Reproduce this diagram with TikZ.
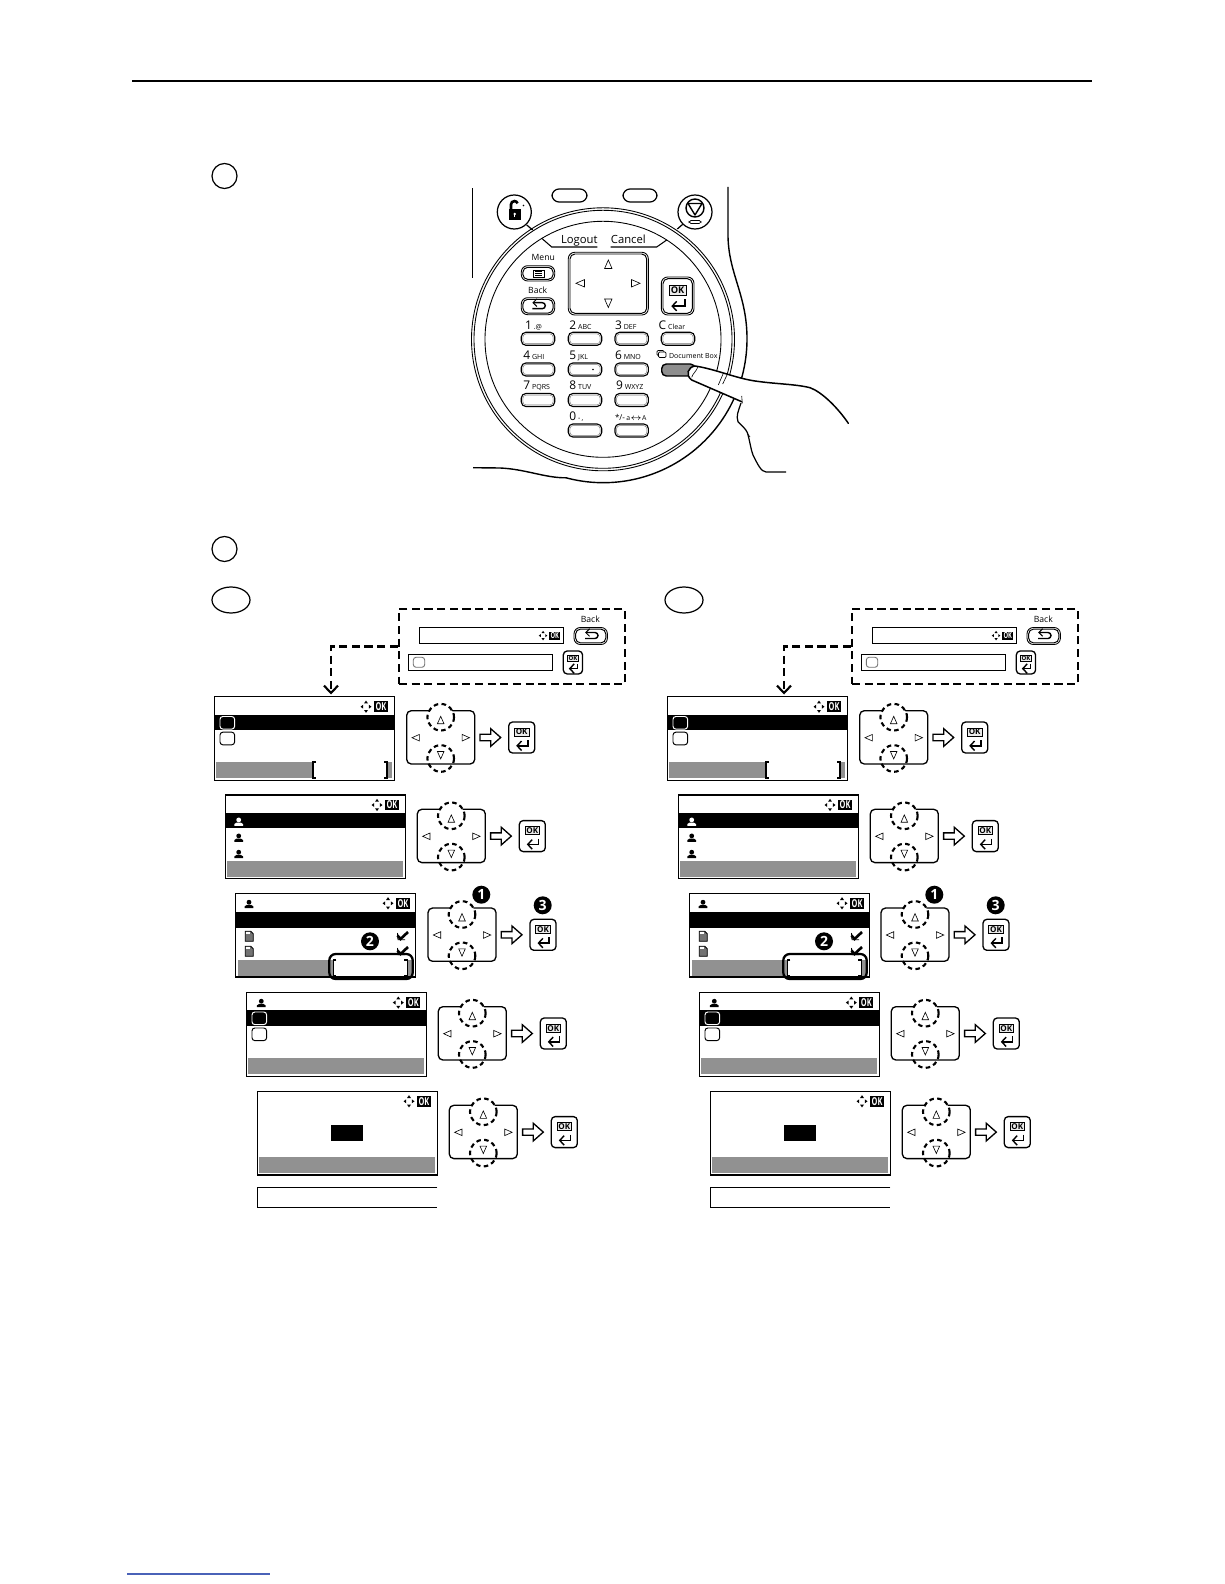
\documentclass[tikz,border=0pt]{standalone}
\usepackage{fontspec}
\setmainfont{Open Sans}
\usetikzlibrary{arrows.meta,calc,shapes.geometric}
\definecolor{scrgray}{HTML}{919191}
\definecolor{keygray}{HTML}{8E8E8E}
\definecolor{linkblue}{HTML}{4A62B8}
\newcounter{nid}
\newcommand\tx[3][]{\stepcounter{nid}\node[txt,#1] (t\arabic{nid}) at (#2) {#3};}
\newcommand\okmark[2]{%
 \begin{scope}[shift={(#1,#2)}]
  \fill (0,0) rectangle (14,10.6);
  \tx[text=white,font=\bfseries\fontsize{6.2}{6.5}\selectfont,xscale=.68]{7,5.3}{OK}
  \fill (-8,-.8) -- (-10,2) -- (-6,2) -- cycle;
  \fill (-8,11.4) -- (-10,8.6) -- (-6,8.6) -- cycle;
  \fill (-13.5,5.3) -- (-10.8,3.3) -- (-10.8,7.3) -- cycle;
  \fill (-2.5,5.3) -- (-5.2,3.3) -- (-5.2,7.3) -- cycle;
 \end{scope}}
\newcommand\okglyph[2]{% x,y of centre of the glyph block
 \begin{scope}[shift={(#1,#2)}]
  \draw[line width=.55pt,fill=black!8] (-7.3,-9) rectangle (7.3,-.8);
  \tx[font=\fontsize{4.6}{5}\selectfont]{0,-4.9}{\textbf{OK}}
  \draw[line width=1pt,-{Straight Barb[length=2.5pt,width=5.4pt,line width=.8pt]}] (6.3,3) -- (6.3,8.8) -- (-5.5,8.8);
 \end{scope}}
\newcommand\okbtn[3][1]{% top-left, 26x31
 \begin{scope}[shift={(#2,#3)},scale=#1,transform shape]
  \draw[line width=.75pt,fill=white,rounded corners=2.2pt] (0,0) rectangle (26,31);
  \okglyph{13}{15}
 \end{scope}}
\newcommand\backkey[3][]{% x0,y0 size 33x17
 \begin{scope}[shift={(#2,#3)}]
  \draw[line width=.5pt,rounded corners=3.6pt] (0,0) rectangle (33.4,17);
  \draw[line width=.55pt,rounded corners=2.8pt] (1.6,1.6) rectangle (31.8,15.4);
  \draw[line width=.8pt,-{Straight Barb[length=2.2pt,width=4.4pt,line width=.6pt]}] (22,5) -- (11,5);
  \draw[line width=.8pt] (12,5) -- (21,5) arc[start angle=-90,end angle=90,radius=3] -- (11,11);
 \end{scope}}
\newcommand\navpanel[2]{%
 \begin{scope}[shift={(#1,#2)}]
  \draw[navf] (0,0) rectangle (68,53.3);
  \fill[white] (34,6.5) circle[radius=13];
  \draw[dashc] (34,6.5) circle[radius=13.3];
  \draw[dashc] (34,47.8) circle[radius=13.3];
  \draw[tri] (34,5.6) -- (30.7,13) -- (37.3,13) -- cycle;
  \draw[tri] (34,48.2) -- (30.7,40.8) -- (37.3,40.8) -- cycle;
  \draw[tri] (5.3,27) -- (12.7,23.7) -- (12.7,30.3) -- cycle;
  \draw[tri] (62.8,27) -- (55.4,23.7) -- (55.4,30.3) -- cycle;
  \draw[line width=.75pt,fill=white,line join=miter] (73.3,23.6) -- (84,23.6) -- (84,18) -- (94,26.8) -- (84,35.6) -- (84,30) -- (73.3,30) -- cycle;
  \okbtn{102}{11.3}
 \end{scope}}
\newcommand\scrframe[2]{%
 \draw[scrf] (#1,#2) rectangle ++(180,83.7);}
\newcommand\rbox[3][black]{%
 \draw[draw=#1,line width=.55pt,rounded corners=1.6pt,fill=white] (#2,#3) rectangle ++(14.6,12.6);}
\newcommand\person[3][black]{%
 \fill[#1] (#2,#3-1.8) circle[radius=2.4];
 \fill[#1] (#2-4.4,#3+4.2) -- (#2-4.4,#3+2.4) -- (#2-2,#3+.8) -- (#2+2,#3+.8) -- (#2+4.4,#3+2.4) -- (#2+4.4,#3+4.2) -- cycle;}
\newcommand\docicon[2]{%
 \draw[line width=.45pt,fill=black!55] (#1-4,#2-5) -- (#1+1.5,#2-5) -- (#1+4,#2-2.5) -- (#1+4,#2+5) -- (#1-4,#2+5) -- cycle;
 \fill[white] (#1-3,#2-4.2) rectangle (#1+.8,#2-2.4);}
\newcommand\checkmk[2]{%
 \draw[line width=.5pt] (#1-5.5,#2-3) -- (#1-5,#2+3.8) -- (#1+2,#2+3.8);
 \draw[line width=1.5pt] (#1-5.5,#2-.5) -- (#1-2.5,#2+3) -- (#1+5,#2-4);}
\newcommand\bubble[3]{%
 \stepcounter{nid}\node[circle,fill=black,text=white,inner sep=0pt,minimum size=.36cm,font=\bfseries\fontsize{8}{8}\selectfont] (t\arabic{nid}) at (#1,#2) {#3};}
\newcommand\brkt[2]{%
 \fill[white] (#1,#2) rectangle ++(74,16);
 \draw[line width=.75pt] (#1+3,#2) -- (#1,#2) -- (#1,#2+16) -- (#1+3,#2+16);
 \draw[line width=.75pt] (#1+71,#2) -- (#1+74,#2) -- (#1+74,#2+16) -- (#1+71,#2+16);}
\newcommand\column[3]{% name, dx, dx for screen C
\begin{scope}[shift={(#2,0)}]
 \node[draw,line width=1.35pt,dash pattern=on 4.6pt off 2.6pt,minimum width=4.52cm,minimum height=1.5cm,inner sep=0pt] (dbox#1) at (512,646.5) {};
 % dashed box content
 \draw[line width=.7pt] (419.3,627.5) rectangle (563.3,643.3);
 \begin{scope}[shift={(549.3,631.5)},scale=.78,transform shape] \okmark{0}{0} \end{scope}
 \backkey{574}{627.5}
 \tx[font=\fontsize{4.9}{5}\selectfont]{590.3,619.5}{Back}
 \draw[line width=.7pt] (408.7,654.7) rectangle (552.7,670.7);
 \draw[black!55,line width=.5pt,rounded corners=1.6pt] (413.3,657.3) rectangle (424.7,667.3);
 \okbtn[.74]{563.3}{651}
 \coordinate (tgt#1) at (331,694.5);
 \draw[line width=1.35pt,dash pattern=on 4.6pt off 2.6pt,-{Straight Barb[length=4.2pt,width=8pt,line width=1.2pt]}] (dbox#1.west) -| (tgt#1);
 % screen A
 \scrframe{214.7}{696.7}
 \fill (214.7,714.7) rectangle (394.7,730);
 \draw[line width=.55pt,white,rounded corners=1.6pt,fill=black] (220,716.5) rectangle ++(14.6,12.6);
 \rbox{220}{732.2}
 \fill[scrgray] (216,762) rectangle (392,778);
 \brkt{313}{762}
 \okmark{374}{701.4}
 \navpanel{406.7}{710.7}
 % screen B
 \scrframe{225.7}{795}
 \fill (225.7,813) rectangle (405.7,828.3);
 \person[white]{238.7}{821.7} \person{238.7}{837.7} \person{238.7}{854}
 \fill[scrgray] (227.3,861) rectangle (403,877);
 \okmark{385}{799.7}
 \navpanel{417.3}{809.3}
 % screen D
 \scrframe{246.7}{992.7}
 \fill (246.7,1010) rectangle (426.7,1025.7);
 \draw[line width=.55pt,white,rounded corners=1.6pt,fill=black] (252,1012) rectangle ++(14.6,12.6);
 \rbox{252}{1028}
 \person{261.3}{1003}
 \fill[scrgray] (248.3,1058) rectangle (424,1074);
 \okmark{406.3}{997.3}
 \navpanel{438.3}{1006.7}
 % screen E
 \scrframe{257.3}{1091.3}
 \fill (331,1125) rectangle (363,1141);
 \fill[scrgray] (259,1157) rectangle (435,1173);
 \okmark{417}{1096}
 \navpanel{449.3}{1105.3}
 \draw[line width=.85pt] (437.3,1187.3) -- (257.3,1187.3) -- (257.3,1207.3) -- (437.3,1207.3);
 % nav C and bubbles
 \navpanel{428}{908}
 \bubble{481.3}{894.7}{1}
 \bubble{542.7}{905.3}{3}
\end{scope}
\begin{scope}[shift={(#3,0)}]
 \scrframe{235.3}{893.3}
 \fill (235.3,912) rectangle (415.3,928);
 \person{249}{904}
 \docicon{249.3}{936.3} \docicon{249.3}{951.3}
 \checkmk{403}{936}
 \fill[scrgray] (238,960) rectangle (413,976);
 \begin{scope}
  \clip (235.3,893.3) rectangle (415.3,955);
  \checkmk{403}{951}
 \end{scope}
 \brkt{333.3}{960}
 \draw[line width=1.3pt,rounded corners=3.6pt] (329.3,954) rectangle (412.7,979);
 \okmark{396}{898}
 \bubble{370}{941.3}{2}
\end{scope}}
\tikzset{
 x=0.02cm,y=-0.02cm,
 txt/.style={inner sep=0pt,outer sep=0pt},
 navf/.style={line width=.75pt,rounded corners=2.6pt},
 dashc/.style={line width=1.2pt,dash pattern=on 2.6pt off 1.9pt},
 tri/.style={line width=.35pt,line join=miter},
 scrf/.style={line width=.85pt},
 ring/.style={line width=.5pt},
 stepc/.style={draw,line width=.7pt,circle,minimum size=.5cm,inner sep=0pt},
 stepe/.style={draw,line width=.7pt,ellipse,minimum width=.76cm,minimum height=.52cm,inner sep=0pt},
 key/.style={line width=.65pt,rounded corners=2.6pt,fill=white},
 keyin/.style={line width=.25pt,rounded corners=1.8pt,draw=black!55},
 dbl/.style={line width=.5pt,rounded corners=3.6pt,fill=white},
 dblin/.style={line width=.55pt,rounded corners=2.8pt},
}
\newcommand\kbd[3][]{% x0,y0 fixed size
 \draw[key,#1] (#2,#3) rectangle ++(33.4,13);
 \draw[keyin] (#2+1.6,#3+1.6) rectangle ++(30.2,9.8);}
\newcommand\keylab[4]{%
 \tx[anchor=base west,font=\fontsize{6.8}{7}\selectfont]{#1,#2}{#3\,{\fontsize{4}{4}\selectfont #4}}}
\begin{document}
\begin{tikzpicture}
\useasboundingbox (0,0) rectangle (1224,1584);
\fill[white] (0,0) rectangle (1224,1584);
% top rule and foot link rule
\draw[line width=1.3pt] (132,81) -- (1092,81);
\draw[linkblue,line width=.6pt] (127,1574) -- (270,1574);
% step markers
\node[stepc] (s1) at (224.5,176) {};
\node[stepc] (s2) at (224.5,549) {};
\node[stepe] (e1) at (231,600) {};
\node[stepe] (e2) at (684,600) {};
% ---- operation panel
\draw[line width=.7pt] (472.7,188.3) -- (472.7,278);
\draw[line width=.7pt,rounded corners=4pt] (552,189) rectangle (587,202);
\draw[line width=.7pt,rounded corners=4pt] (623,189) rectangle (657,202);
\draw[line width=.8pt] (728,187) -- (728,237) .. controls (729,275) and (747,295) .. (747,339)
   arc[start angle=0,end angle=105,radius=143.7]
   .. controls (545,478) and (525,469) .. (500,468) -- (473,467.7);
\draw[ring] (603,339.3) circle[radius=131.5];
\draw[ring] (603,339.3) circle[radius=129];
\draw[ring] (603,339.3) circle[radius=118];
% lock
\draw[line width=.7pt] (526.7,225) -- (532.7,230);
\draw[line width=.7pt,fill=white] (514.3,212) circle[radius=17];
\fill (508.5,209.5) rectangle (521,220);
\draw[line width=1.5pt] (511,210) -- (511,204.5) arc[start angle=180,end angle=340,radius=3.4];
\fill[white] (514.7,214) circle[radius=1.4];
\fill[white] (514,214) rectangle (515.4,217.5);
\fill (523.5,205.5) circle[radius=.8];
% stop
\draw[line width=.7pt] (682.7,224.3) -- (677.3,229);
\draw[line width=.7pt,fill=white] (695,212) circle[radius=17];
\draw[line width=.8pt] (695,208) circle[radius=9];
\draw[line width=.8pt,line join=round] (695,215) -- (688,203.5) -- (702,203.5) -- cycle;
\draw[line width=.4pt,rounded corners=1pt] (689,220.5) rectangle (701,223.5);
% Logout band
\draw[line width=.6pt] (541.7,238.3) -- (551.7,247) -- (597.3,247);
\draw[line width=.6pt] (610.7,247) -- (656.7,247) -- (666.7,240);
\tx[anchor=base,font=\fontsize{6.4}{7}\selectfont]{579.3,244}{Logout}
\tx[anchor=base,font=\fontsize{6.4}{7}\selectfont]{628.3,244}{Cancel}
% menu, back
\tx[font=\fontsize{4.9}{5}\selectfont]{543.3,257.3}{Menu}
\draw[dbl] (521.3,265.7) rectangle (554.7,281);
\draw[dblin] (522.9,267.3) rectangle (553.1,279.4);
\draw[line width=.5pt] (533,270) rectangle (544,277);
\draw[line width=.35pt] (535,271.7) -- (542,271.7) (535,273.5) -- (542,273.5) (535,275.2) -- (542,275.2);
\tx[font=\fontsize{4.9}{5}\selectfont]{537.7,290}{Back}
\backkey{521.3}{297.7}
% arrow pad
\draw[dbl] (568.3,252.3) rectangle (648.3,315);
\draw[dblin] (570,254) rectangle (646.6,313.3);
\draw[tri] (608.3,260) -- (604.6,268.5) -- (612,268.5) -- cycle;
\draw[tri] (608.3,307.5) -- (604.6,299) -- (612,299) -- cycle;
\draw[tri] (576,283.3) -- (584.5,279.6) -- (584.5,287) -- cycle;
\draw[tri] (640,283.3) -- (631.5,279.6) -- (631.5,287) -- cycle;
% OK key
\draw[dbl] (661.3,277) rectangle (694,315);
\draw[dblin] (663,278.7) rectangle (692.3,313.3);
\begin{scope}[shift={(677.6,296)},scale=1.15,transform shape] \okglyph{0}{0} \end{scope}
% key rows
\keylab{525}{329.3}{1}{.@}
\keylab{569.3}{329.3}{2}{ABC}
\keylab{615}{329.3}{3}{DEF}
\keylab{658.7}{329.3}{C}{Clear}
\keylab{523.3}{359.3}{4}{GHI}
\keylab{569.3}{359.3}{5}{JKL}
\keylab{615}{359.3}{6}{MNO}
\keylab{523.3}{390}{7}{PQRS}
\keylab{569.3}{390}{8}{TUV}
\keylab{616}{390}{9}{WXYZ}
\keylab{569.3}{420}{0}{-\,,}
\tx[anchor=base west,font=\fontsize{4.6}{5}\selectfont]{615,420}{*/-\,{\fontsize{3.9}{4}\selectfont a$\leftrightarrow$A}}
\kbd{521.3}{332.3} \kbd{568.3}{332.3} \kbd{615}{332.3} \kbd{661.3}{332.3}
\kbd{521.3}{363} \kbd{568.3}{363} \kbd{615}{363}
\fill (593,369.5) circle[radius=.9];
\kbd{521.3}{393.5} \kbd{568.3}{393.5} \kbd{615}{393.5}
\kbd{568.3}{424} \kbd{615}{424}
\draw[line width=.8pt,fill=keygray,rounded corners=2.6pt] (661.7,364) rectangle (695,376);
% document box label
\draw[line width=.4pt,fill=white,rounded corners=.6pt] (657,350.5) rectangle (664,355.5);
\draw[line width=.4pt,fill=white,rounded corners=.6pt] (658.5,352) rectangle (666,357.5);
\tx[anchor=base west,font=\fontsize{4}{5}\selectfont]{669,358.5}{Document Box}
% hand
\fill[white] (695,366) .. controls (715,369) and (735,378) .. (755,381) .. controls (775,384) and (795,384) .. (810,387.7) .. controls (822,392) and (838,408) .. (848.3,423.3)
  -- (786,472) -- (766,472) -- (740,425) -- (741.7,401.7) -- (691.7,380) .. controls (685,375) and (688,367) .. (695,366) -- cycle;
\draw[line width=.85pt,line cap=round] (741.7,401.7) -- (691.7,380) .. controls (685,375) and (688,367) .. (695,366) .. controls (715,369) and (735,378) .. (755,381) .. controls (775,384) and (795,384) .. (810,387.7) .. controls (822,392) and (838,408) .. (848.3,423.3);
\draw[line width=.7pt] (741,403) .. controls (738,412) and (736,416) .. (738,421.7) .. controls (742,426) and (746,429) .. (747.5,433) .. controls (750,442) and (751,450) .. (753,455) .. controls (757,463) and (761,472) .. (766,472) -- (786,472);
\draw[line width=.35pt] (698,366.7) .. controls (696,372) and (693,373) .. (691.7,377.3);
\draw[line width=.35pt] (718.3,385) -- (723.3,373.3);
\draw[line width=.35pt] (722.7,384) -- (727.3,374.3);
\draw[line width=.35pt] (741.7,396) -- (742.3,403.3);
\draw[line width=.35pt] (747,433) -- (750,437);
% ---- two columns
\column{L}{0}{0}
\column{R}{453}{454}
\end{tikzpicture}
\end{document}
